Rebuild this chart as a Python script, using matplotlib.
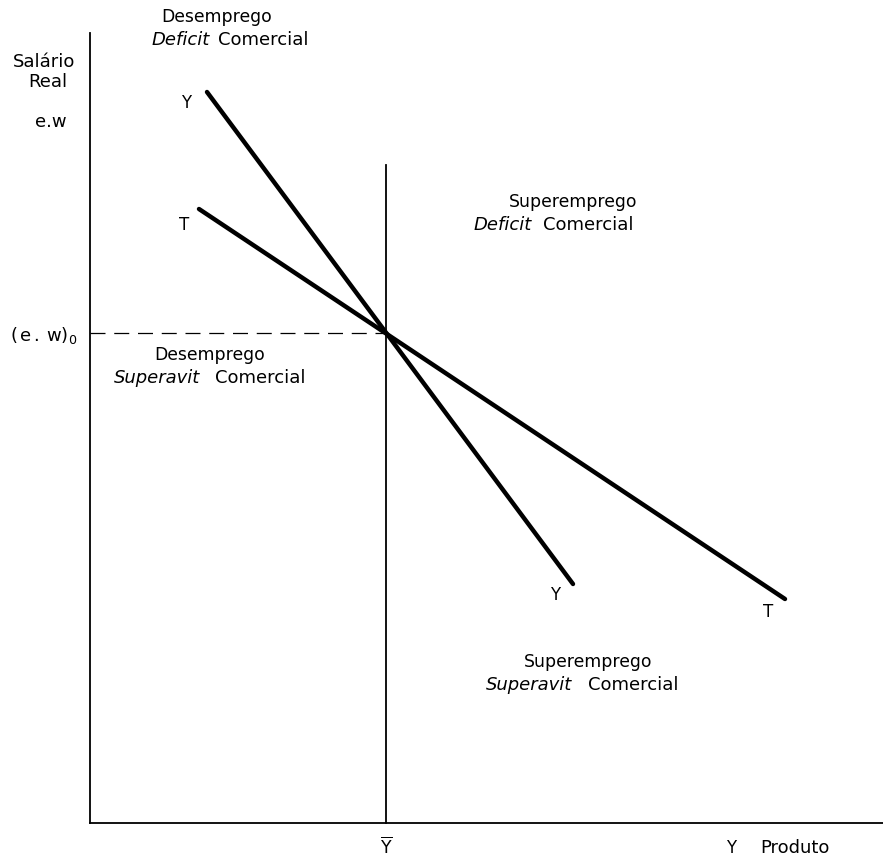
import matplotlib
matplotlib.use("Agg")
import matplotlib.pyplot as plt

plt.rcParams['font.family'] = ['DejaVu Sans']
plt.rcParams['mathtext.fontset'] = 'dejavusans'

# Data (x: Produto, y: Salário Real), origin at axes corner
y_bar = 296          # full-employment output
ew0 = 490            # equilibrium real wage (e.w)_0
yy_x = [117, 483]    # YY curve endpoints
yy_y = [731, 239]
tt_x = [109, 695]    # TT curve endpoints
tt_y = [614, 224]
x_max = 793
y_max = 790
vline_top = 658

fig = plt.figure(figsize=(8.83, 8.64), dpi=100)
ax = fig.add_axes([0, 0, 1, 1])
ax.set_xlim(-90, 793)
ax.set_ylim(-41, 823)
ax.axis('off')

k = 'black'
# axes
ax.plot([0, 0], [0, y_max], color=k, lw=1.3)
ax.plot([0, x_max], [0, 0], color=k, lw=1.3)
# full-employment line
ax.plot([y_bar, y_bar], [0, vline_top], color=k, lw=1.3)
# dashed equilibrium wage
ax.plot([0, y_bar], [ew0, ew0], color=k, lw=0.9, dashes=(12, 7))
# curves
ax.plot(yy_x, yy_y, color=k, lw=3.2, solid_capstyle='round')
ax.plot(tt_x, tt_y, color=k, lw=3.2, solid_capstyle='round')

fs = 12
fs1 = 12.4
fs2 = 13
# curve labels
ax.text(yy_x[0] - 21, yy_y[0] - 11, 'Y', fontsize=fs, ha='center', va='center')
ax.text(tt_x[0] - 15, tt_y[0] - 16, 'T', fontsize=fs, ha='center', va='center')
ax.text(yy_x[1] - 18, yy_y[1] - 11, 'Y', fontsize=fs, ha='center', va='center')
ax.text(tt_x[1] - 17, tt_y[1] - 13, 'T', fontsize=fs, ha='center', va='center')

# axis labels
ax.text(-46, 761, 'Salário', fontsize=fs2, ha='center', va='center')
ax.text(-42, 741, 'Real', fontsize=fs2, ha='center', va='center')
ax.text(-39, 701, 'e.w', fontsize=fs2, ha='center', va='center')
ax.text(-80, ew0 - 3, r'$\mathsf{(\,e\,.\,w)_0}$', fontsize=fs2, ha='left', va='center')
ax.text(y_bar, -24, r'$\overline{\mathsf{Y}}$', fontsize=fs + 0.5, ha='center', va='center')
ax.text(641, -25, 'Y', fontsize=fs, ha='center', va='center')
ax.text(670, -25, 'Produto', fontsize=fs2, ha='left', va='center')

def region(xc, ytop, top, italic, rest, xsplit, gap):
    ax.text(xc, ytop, top, fontsize=fs1, ha='center', va='center')
    ax.text(xsplit, ytop - 23, italic, fontsize=fs2, ha='right', va='center', style='italic')
    ax.text(xsplit + gap, ytop - 23, rest, fontsize=fs2, ha='left', va='center')

region(127, 806, 'Desemprego', 'Deficit', 'Comercial', 120, 8)
region(483, 621, 'Superemprego', 'Deficit', 'Comercial', 442, 11)
region(120, 468, 'Desemprego', 'Superavit', 'Comercial', 110, 15)
region(498, 161, 'Superemprego', 'Superavit', 'Comercial', 482, 16)

fig.savefig('out.png', dpi=100)
